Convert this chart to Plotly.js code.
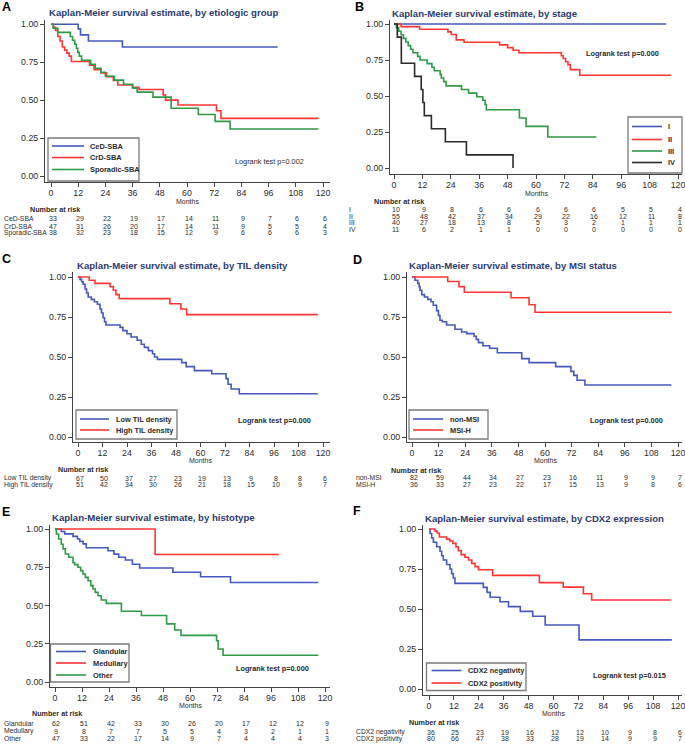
<!DOCTYPE html>
<html>
<head>
<meta charset="utf-8">
<script src="https://cdn.plot.ly/plotly-3.0.1.min.js"></script>
<style>
  html, body { margin: 0; padding: 0; background: #fff; }
  #chart { width: 685px; height: 745px; }
</style>
</head>
<body>
<div id="chart"></div>
<script>
// months where the number-at-risk table is printed
const riskMonths = [0, 12, 24, 36, 48, 60, 72, 84, 96, 108, 120];

// --- A: etiologic group ---
const cedTime = [0, 12, 13, 16.5, 31.5, 100];
const cedSurv = [1, 0.97, 0.93, 0.89, 0.85, 0.85];
const cedRisk = [33, 29, 22, 19, 17, 14, 11, 9, 7, 6, 6];
const crdTime = [0, 1, 2, 3, 4, 5, 6, 7, 8, 9, 17, 19, 22, 24.5, 27.5, 29.5, 36, 38.8, 49.5, 50.5, 56, 73, 75, 118];
const crdSurv = [1, 0.98, 0.96, 0.92, 0.89, 0.85, 0.83, 0.81, 0.79, 0.755, 0.73, 0.70, 0.68, 0.655, 0.63, 0.60, 0.585, 0.57, 0.535, 0.50, 0.468, 0.43, 0.38, 0.38];
const crdRisk = [47, 31, 26, 20, 17, 14, 11, 9, 5, 5, 4];
const sporTime = [0, 1, 3, 8.5, 9.5, 10.5, 11.2, 11.8, 12.5, 13.5, 17.5, 19.5, 22, 24, 28, 32, 36, 38, 45, 53, 65, 72.4, 79, 118];
const sporSurv = [1, 0.974, 0.947, 0.92, 0.895, 0.868, 0.842, 0.816, 0.79, 0.763, 0.737, 0.71, 0.684, 0.658, 0.632, 0.605, 0.579, 0.553, 0.52, 0.447, 0.405, 0.36, 0.31, 0.31];
const sporRisk = [38, 32, 23, 18, 15, 12, 9, 6, 6, 6, 3];

// --- B: stage ---
const s1Time = [0, 115];
const s1Surv = [1, 1];
const s1Risk = [10, 9, 8, 6, 6, 6, 6, 6, 5, 5, 4];
const s2Time = [0, 3, 10.8, 22.8, 24.2, 26.3, 29.6, 44.6, 48, 50.3, 52.8, 70.7, 71.5, 72.5, 73.5, 74.5, 78.5, 117];
const s2Surv = [1, 0.982, 0.964, 0.945, 0.927, 0.89, 0.873, 0.855, 0.836, 0.818, 0.80, 0.78, 0.76, 0.738, 0.718, 0.683, 0.644, 0.644];
const s2Risk = [55, 48, 42, 37, 34, 29, 22, 16, 12, 11, 8];
const s3Time = [0, 1, 2, 3, 4, 5, 6, 7, 8, 10, 11, 14, 16, 17, 19.5, 20, 21, 22, 28.5, 31.5, 35, 37.5, 38.5, 39, 53, 55.8, 65, 85.5];
const s3Surv = [1, 0.975, 0.95, 0.925, 0.90, 0.875, 0.85, 0.825, 0.80, 0.775, 0.75, 0.725, 0.70, 0.675, 0.65, 0.625, 0.60, 0.57, 0.545, 0.52, 0.495, 0.47, 0.44, 0.405, 0.347, 0.289, 0.215, 0.215];
const s3Risk = [40, 27, 18, 13, 8, 5, 3, 2, 1, 1, 1];
const s4Time = [0, 1.4, 3.1, 8.7, 11.5, 12.2, 12.8, 15.8, 21.7, 30.6, 50.3];
const s4Surv = [1, 0.909, 0.727, 0.636, 0.545, 0.455, 0.364, 0.273, 0.182, 0.091, 0];
const s4Risk = [11, 6, 2, 1, 1, 0, 0, 0, 0, 0, 0];

// --- C: TIL density ---
const lowTilTime = [0, 1, 1.8, 2.5, 3.5, 4.2, 5, 6.5, 8, 9.5, 10.8, 11.5, 12.3, 13, 13.7, 20.6, 22, 24, 26, 29, 31, 32.5, 34.5, 36.5, 37.5, 38.9, 50.8, 53, 57, 65.5, 72.5, 73.5, 75, 79, 117.5];
const lowTilSurv = [1, 0.985, 0.97, 0.955, 0.925, 0.90, 0.875, 0.86, 0.845, 0.83, 0.80, 0.775, 0.745, 0.72, 0.70, 0.685, 0.665, 0.645, 0.625, 0.605, 0.58, 0.56, 0.54, 0.52, 0.50, 0.485, 0.465, 0.44, 0.415, 0.395, 0.365, 0.33, 0.30, 0.27, 0.27];
const lowTilRisk = [67, 50, 37, 27, 23, 19, 13, 9, 8, 8, 6];
const highTilTime = [0, 5.5, 8.3, 15.7, 17.3, 18.6, 20.2, 45, 50.4, 53.2, 117.5];
const highTilSurv = [1, 0.98, 0.96, 0.94, 0.917, 0.89, 0.865, 0.833, 0.80, 0.765, 0.765];
const highTilRisk = [51, 42, 34, 30, 26, 21, 18, 15, 10, 9, 7];

// --- D: MSI status ---
const nonMsiTime = [0, 1.35, 2.6, 3.2, 3.6, 4.4, 5.6, 7.1, 8.6, 9.6, 11.1, 11.9, 12.6, 13.7, 15.6, 19.4, 22.4, 24.7, 28, 29, 30, 32, 35, 38.5, 49.5, 52.8, 64.8, 71.7, 73, 74.5, 78, 117];
const nonMsiSurv = [1, 0.98, 0.96, 0.94, 0.917, 0.89, 0.875, 0.86, 0.845, 0.823, 0.79, 0.76, 0.73, 0.72, 0.70, 0.673, 0.656, 0.646, 0.63, 0.61, 0.59, 0.57, 0.555, 0.527, 0.49, 0.465, 0.44, 0.41, 0.385, 0.355, 0.325, 0.325];
const nonMsiRisk = [82, 59, 44, 34, 27, 23, 16, 11, 9, 9, 7];
const msiTime = [0, 16.1, 21.2, 23.6, 44.7, 52.8, 55.5, 117];
const msiSurv = [1, 0.972, 0.94, 0.905, 0.87, 0.827, 0.78, 0.78];
const msiRisk = [36, 33, 27, 23, 22, 17, 15, 13, 9, 8, 6];

// --- E: histotype ---
const glandTime = [0, 2.8, 4.3, 8, 10, 11, 12.5, 13.9, 23.6, 26.2, 28.3, 31.3, 34.4, 37.6, 52.4, 64.7, 78, 117];
const glandSurv = [1, 0.984, 0.968, 0.952, 0.935, 0.919, 0.903, 0.877, 0.858, 0.836, 0.815, 0.797, 0.77, 0.745, 0.717, 0.688, 0.65, 0.65];
const glandRisk = [62, 51, 42, 33, 30, 26, 20, 17, 12, 12, 9];
const medTime = [0, 44.5, 99.5];
const medSurv = [1, 0.833, 0.833];
const medRisk = [9, 8, 7, 7, 5, 5, 4, 3, 2, 1, 1];
const otherTime = [0, 0.6, 1.6, 2.8, 3.6, 4.6, 6.1, 8, 8.7, 10.2, 11.4, 12.4, 13.5, 14.7, 15.9, 16.9, 17.9, 19.1, 20.6, 22.8, 29.5, 38.4, 49.6, 53.2, 56, 71.8, 72.5, 74.7, 117];
const otherSurv = [1, 0.967, 0.935, 0.90, 0.87, 0.837, 0.815, 0.78, 0.767, 0.75, 0.728, 0.706, 0.684, 0.662, 0.63, 0.608, 0.586, 0.564, 0.536, 0.514, 0.462, 0.435, 0.38, 0.34, 0.305, 0.27, 0.216, 0.175, 0.175];
const otherRisk = [47, 33, 22, 17, 14, 9, 7, 4, 4, 4, 3];

// --- F: CDX2 expression ---
const cdxNegTime = [0, 0.5, 1.3, 2.1, 3.7, 5.3, 6.1, 6.9, 8.5, 10.1, 10.9, 11.7, 12.5, 26.2, 28, 29.5, 34.2, 38.3, 44, 50, 56, 72.3, 117];
const cdxNegSurv = [1, 0.972, 0.944, 0.917, 0.889, 0.861, 0.833, 0.806, 0.778, 0.75, 0.722, 0.694, 0.66, 0.635, 0.604, 0.573, 0.545, 0.515, 0.485, 0.455, 0.40, 0.307, 0.307];
const cdxNegRisk = [36, 25, 23, 19, 16, 12, 12, 10, 9, 8, 6];
const cdxPosTime = [0, 2.9, 4, 5, 8.5, 10, 11.5, 13, 14.1, 15.5, 17.3, 19, 20.6, 22.2, 23.8, 30.7, 53.2, 64.7, 74.4, 78.4, 116.5];
const cdxPosSurv = [1, 0.987, 0.975, 0.95, 0.937, 0.925, 0.91, 0.888, 0.865, 0.84, 0.823, 0.806, 0.785, 0.765, 0.745, 0.71, 0.665, 0.637, 0.595, 0.556, 0.556];
const cdxPosRisk = [80, 66, 47, 38, 33, 28, 19, 14, 9, 9, 7];

const BLUE = '#4458bd', RED = '#ff3434', GREEN = '#2f9a46', BLACK = '#2a2a2a';
const TITLE_COLOR = '#2b3a70';
const TEXT = '#2a2a2a';
const FONT = 'Liberation Sans, Arial, Helvetica, sans-serif';

// panel geometry is in page pixels (685 x 745)
const panels = [
  {
    letter: 'A', letterAt: [6, 7],
    title: 'Kaplan-Meier survival estimate, by etiologic group', titleAt: [47, 12],
    xL: 45, xR: 330, x0: 51, x120: 323, yTop: 20, yBot: 182, y1: 24.3, y0: 176,
    logrank: 'Logrank test p=0.002', lrAt: [306, 162], lrBold: false,
    monthsY: 201.5, narAt: [28, 209], labelX: 2, rowsY: [218, 226, 233],
    legend: { box: [48, 138, 139, 181], line: [52, 84], textX: 88, rows: [146, 157.5, 169.5] },
    groups: [
      { name: 'CeD-SBA', time: cedTime, surv: cedSurv, risk: cedRisk, color: BLUE },
      { name: 'CrD-SBA', time: crdTime, surv: crdSurv, risk: crdRisk, color: RED },
      { name: 'Sporadic-SBA', time: sporTime, surv: sporSurv, risk: sporRisk, color: GREEN },
    ],
  },
  {
    letter: 'B', letterAt: [359, 7],
    title: 'Kaplan-Meier survival estimate, by stage', titleAt: [390, 13],
    xL: 390, xR: 682, x0: 394, x120: 678, yTop: 20, yBot: 174, y1: 24, y0: 168,
    logrank: 'Logrank test p=0.000', lrAt: [661, 53], lrBold: true,
    monthsY: 193.5, narAt: [372, 201], labelX: 347, rowsY: [209, 216, 223, 229.5],
    legend: { box: [628, 117, 682, 173], line: [632, 662], textX: 666, rows: [126.5, 139.5, 151, 162.5] },
    groups: [
      { name: 'I', time: s1Time, surv: s1Surv, risk: s1Risk, color: BLUE },
      { name: 'II', time: s2Time, surv: s2Surv, risk: s2Risk, color: RED },
      { name: 'III', time: s3Time, surv: s3Surv, risk: s3Risk, color: GREEN },
      { name: 'IV', time: s4Time, surv: s4Surv, risk: s4Risk, color: BLACK },
    ],
  },
  {
    letter: 'C', letterAt: [6, 259],
    title: 'Kaplan-Meier survival estimate, by TIL density', titleAt: [75, 265],
    xL: 73, xR: 330, x0: 78, x120: 323, yTop: 272, yBot: 442, y1: 277, y0: 437,
    logrank: 'Logrank test p=0.000', lrAt: [313, 420], lrBold: true,
    monthsY: 460.5, narAt: [56, 469], labelX: 2, rowsY: [478, 485],
    legend: { box: [76, 410, 177, 439], line: [80, 109], textX: 114, rows: [419, 430] },
    groups: [
      { name: 'Low TIL density', time: lowTilTime, surv: lowTilSurv, risk: lowTilRisk, color: BLUE },
      { name: 'High TIL density', time: highTilTime, surv: highTilSurv, risk: highTilRisk, color: RED },
    ],
  },
  {
    letter: 'D', letterAt: [357, 260],
    title: 'Kaplan-Meier survival estimate, by MSI status', titleAt: [407, 265],
    xL: 407, xR: 682, x0: 412, x120: 678, yTop: 272, yBot: 442, y1: 277, y0: 437,
    logrank: 'Logrank test p=0.000', lrAt: [665, 420], lrBold: true,
    monthsY: 460.5, narAt: [389, 470], labelX: 354, rowsY: [477, 484],
    legend: { box: [409, 410, 488, 439], line: [413, 443], textX: 448, rows: [419, 430] },
    groups: [
      { name: 'non-MSI', time: nonMsiTime, surv: nonMsiSurv, risk: nonMsiRisk, color: BLUE },
      { name: 'MSI-H', time: msiTime, surv: msiSurv, risk: msiRisk, color: RED },
    ],
  },
  {
    letter: 'E', letterAt: [6, 512],
    title: 'Kaplan-Meier survival estimate, by histotype', titleAt: [50, 517],
    xL: 50, xR: 330, x0: 55, x120: 325, yTop: 525, yBot: 687, y1: 529, y0: 682,
    logrank: 'Logrank test p=0.000', lrAt: [311, 668], lrBold: true,
    monthsY: 705.5, narAt: [30, 713.5], labelX: 2, rowsY: [723, 731, 738.5],
    legend: { box: [50.5, 644, 129, 682], line: [56, 86], textX: 90.5, rows: [651.5, 663, 675] },
    groups: [
      { name: 'Glandular', time: glandTime, surv: glandSurv, risk: glandRisk, color: BLUE },
      { name: 'Medullary', time: medTime, surv: medSurv, risk: medRisk, color: RED },
      { name: 'Other', time: otherTime, surv: otherSurv, risk: otherRisk, color: GREEN },
    ],
  },
  {
    letter: 'F', letterAt: [357, 511],
    title: 'Kaplan-Meier survival estimate, by CDX2 expression', titleAt: [423, 518],
    xL: 423, xR: 682, x0: 429, x120: 678, yTop: 525, yBot: 695, y1: 529, y0: 689,
    logrank: 'Logrank test p=0.015', lrAt: [668, 675], lrBold: true,
    monthsY: 713.5, narAt: [407, 722], labelX: 354, rowsY: [732, 738.5],
    legend: { box: [426.5, 663, 526, 690.5], line: [431.5, 461.5], textX: 466.5, rows: [670.5, 683] },
    groups: [
      { name: 'CDX2 negativity', time: cdxNegTime, surv: cdxNegSurv, risk: cdxNegRisk, color: BLUE },
      { name: 'CDX2 positivity', time: cdxPosTime, surv: cdxPosSurv, risk: cdxPosRisk, color: RED },
    ],
  },
];

const W = 685, H = 745;
const fx = v => v / W;
const fy = v => 1 - v / H;

const traces = [];
const annotations = [];
const shapes = [];
const layout = {
  width: W, height: H,
  margin: { l: 0, r: 0, t: 0, b: 0 },
  paper_bgcolor: '#fff', plot_bgcolor: '#fff',
  showlegend: false,
  font: { family: FONT, color: TEXT },
};

function txt(text, x, y, size, opts = {}) {
  annotations.push(Object.assign({
    text: text, x: x, y: y, xref: 'paper', yref: 'paper',
    showarrow: false, xanchor: 'left', yanchor: 'middle',
    font: { family: FONT, size: size, color: TEXT },
  }, opts));
}

panels.forEach((p, i) => {
  const n = i + 1;
  const xName = n === 1 ? 'xaxis' : 'xaxis' + n;
  const yName = n === 1 ? 'yaxis' : 'yaxis' + n;
  const xRef = n === 1 ? 'x' : 'x' + n;
  const yRef = n === 1 ? 'y' : 'y' + n;
  const perX = (p.x120 - p.x0) / 120;
  const perY = p.y0 - p.y1;

  layout[xName] = {
    domain: [fx(p.xL), fx(p.xR)],
    range: [(p.xL - p.x0) / perX, (p.xR - p.x0) / perX],
    anchor: yRef,
    tickvals: riskMonths,
    showline: true, linecolor: '#444', linewidth: 1,
    ticks: 'outside', ticklen: 4, tickcolor: '#444',
    ticklabelstandoff: -2, ticklabeloverflow: 'allow',
    showgrid: false, zeroline: false, fixedrange: true,
    tickfont: { family: FONT, size: 8.8, color: TEXT },
  };
  layout[yName] = {
    domain: [fy(p.yBot), fy(p.yTop)],
    range: [-(p.yBot - p.y0) / perY, 1 + (p.y1 - p.yTop) / perY],
    anchor: xRef,
    tickvals: [0, 0.25, 0.5, 0.75, 1],
    tickformat: '.2f',
    showline: true, linecolor: '#444', linewidth: 1,
    ticks: 'outside', ticklen: 4, tickcolor: '#444',
    ticklabeloverflow: 'allow',
    showgrid: false, zeroline: false, fixedrange: true,
    tickfont: { family: FONT, size: 8.8, color: TEXT },
  };

  // survival curves
  p.groups.forEach(g => {
    traces.push({
      type: 'scatter', mode: 'lines',
      x: g.time, y: g.surv, name: g.name,
      xaxis: xRef, yaxis: yRef,
      line: { color: g.color, width: 1.6, shape: 'hv' },
      hoverinfo: 'x+y+name',
    });
  });

  // letter, title, logrank text
  txt('<b>' + p.letter + '</b>', fx(p.letterAt[0]), fy(p.letterAt[1]), 12.5, { xanchor: 'center', font: { family: FONT, size: 12.5, color: '#000' } });
  txt('<b>' + p.title + '</b>', fx(p.titleAt[0]), fy(p.titleAt[1]), 9.6, { font: { family: FONT, size: 9.6, color: TITLE_COLOR } });
  txt(p.lrBold ? '<b>' + p.logrank + '</b>' : p.logrank, fx(p.lrAt[0]), fy(p.lrAt[1]), 7.3, { xanchor: 'right' });

  // axis title
  annotations.push({
    text: 'Months', x: 60, y: fy(p.monthsY), xref: xRef, yref: 'paper',
    showarrow: false, xanchor: 'center', yanchor: 'middle',
    font: { family: FONT, size: 7, color: TEXT },
  });

  // legend box
  const lg = p.legend;
  shapes.push({
    type: 'rect', xref: 'paper', yref: 'paper',
    x0: fx(lg.box[0]), x1: fx(lg.box[2]), y0: fy(lg.box[3]), y1: fy(lg.box[1]),
    line: { color: '#7a7a7a', width: 1.3 }, fillcolor: '#fff', layer: 'above',
  });
  p.groups.forEach((g, k) => {
    shapes.push({
      type: 'line', xref: 'paper', yref: 'paper',
      x0: fx(lg.line[0]), x1: fx(lg.line[1]), y0: fy(lg.rows[k]), y1: fy(lg.rows[k]),
      line: { color: g.color, width: 1.6 }, layer: 'above',
    });
    txt('<b>' + g.name + '</b>', fx(lg.textX), fy(lg.rows[k]), 7.4);
  });

  // number at risk table
  txt('<b>Number at risk</b>', fx(p.narAt[0]), fy(p.narAt[1]), 7.2);
  p.groups.forEach((g, k) => {
    const yy = fy(p.rowsY[k]);
    txt(g.name, fx(p.labelX), yy, 6.8);
    g.risk.forEach((v, j) => {
      annotations.push({
        text: String(v), x: riskMonths[j], y: yy, xref: xRef, yref: 'paper',
        showarrow: false, xanchor: 'center', yanchor: 'middle', xshift: 1.5,
        font: { family: FONT, size: 7, color: TEXT },
      });
    });
  });
});

layout.annotations = annotations;
layout.shapes = shapes;

Plotly.newPlot('chart', traces, layout, { displayModeBar: false, staticPlot: true });
</script>
</body>
</html>
